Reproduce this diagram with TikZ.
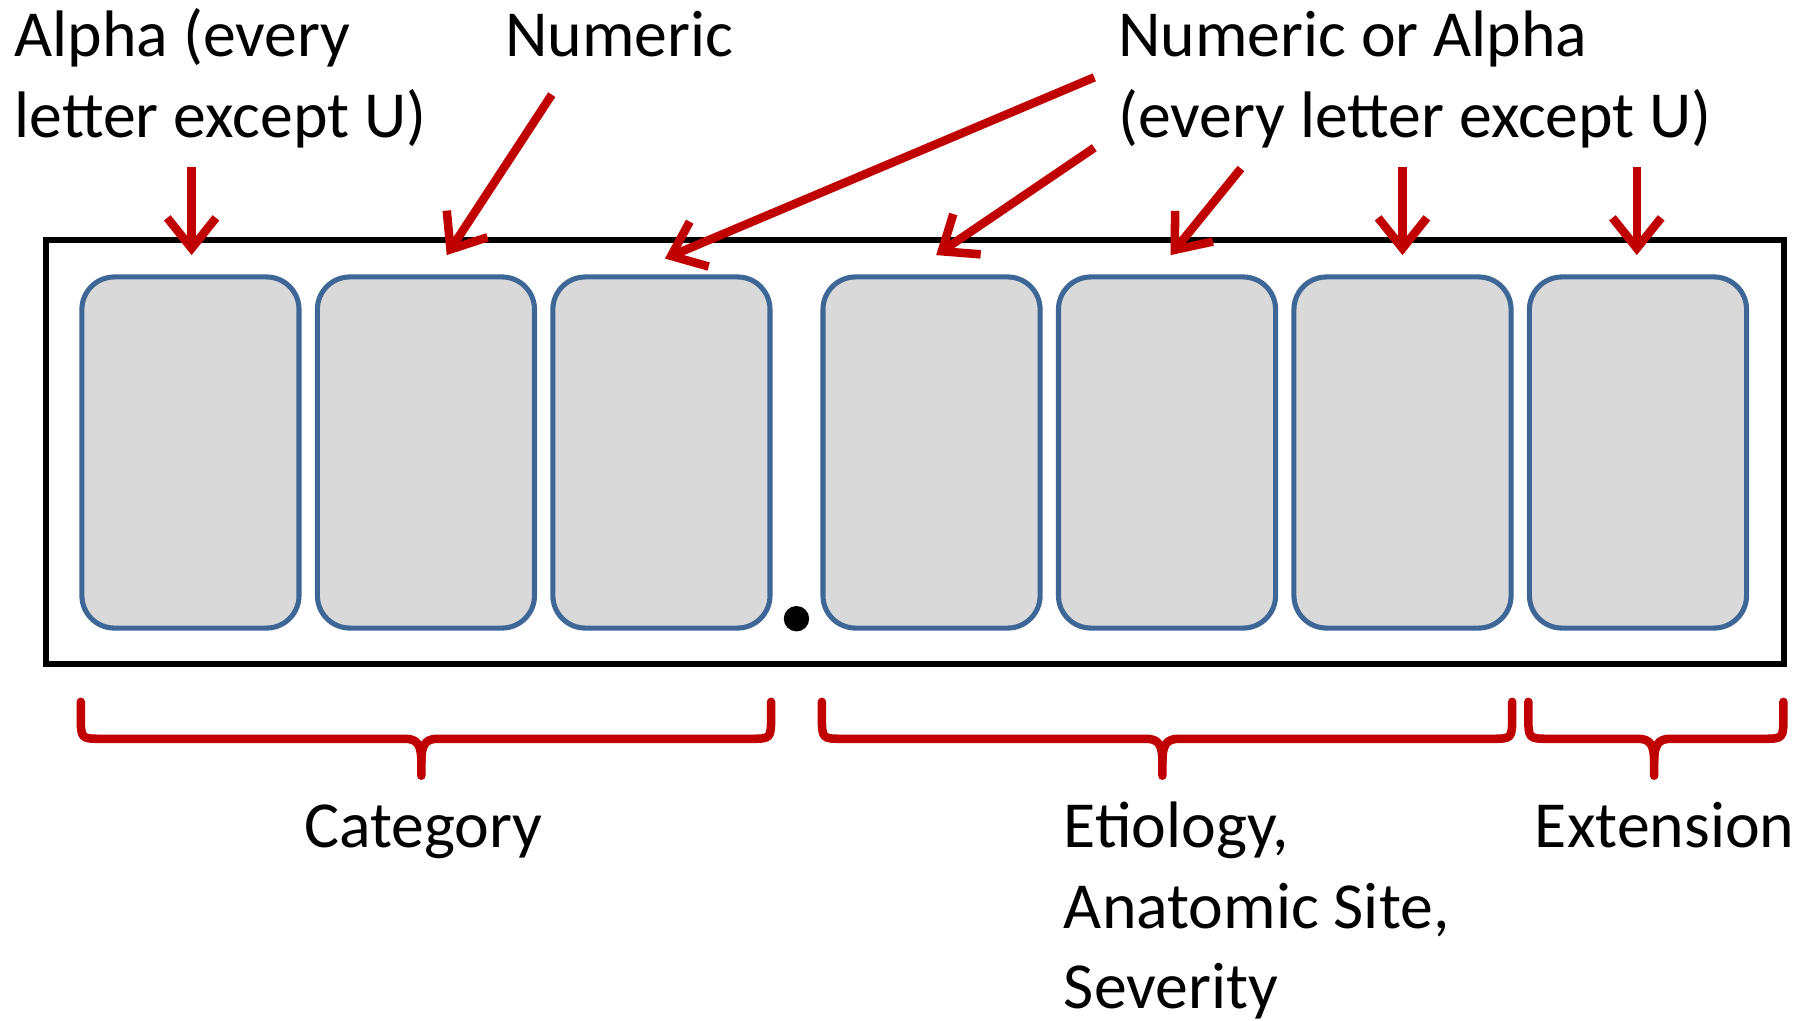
\documentclass[tikz,border=0pt]{standalone}
\usepackage{fontspec}
\setmainfont{Carlito}
\usetikzlibrary{arrows.meta}
\definecolor{cred}{HTML}{C00000}
\definecolor{cblue}{HTML}{3E6797}
\definecolor{cgray}{HTML}{D9D9D9}
\begin{document}
\begin{tikzpicture}[x=0.01cm,y=-0.01cm,
  cell/.style={draw=cblue, fill=cgray, line width=1.25pt, rounded corners=8pt,
    minimum width=1.88cm, minimum height=3.04cm, inner sep=0pt},
  frame/.style={draw=black, line width=1.4pt, minimum width=15.05cm, minimum height=3.67cm, inner sep=0pt},
  lbl/.style={anchor=base west, inner sep=0pt, font=\fontsize{16.2}{20}\selectfont},
  pointer/.style={draw=cred, line width=2.1pt, -{Straight Barb[length=7.5pt,width=12pt]}},
  bracepath/.style={draw=cred, line width=2.1pt, line cap=round, line join=round}]
\useasboundingbox (0,0) rectangle (1568,884);
% frame
\node[frame] (frm) at (792.5,391.5) {};
% cells
\node[cell] (b1) at (165,392) {};
\node[cell] (b2) at (369,392) {};
\node[cell] (b3) at (573,392) {};
\node[cell] (b4) at (807,392) {};
\node[cell] (b5) at (1011,392) {};
\node[cell] (b6) at (1215,392) {};
\node[cell] (b7) at (1419,392) {};
% decimal point
\node[circle, fill=black, inner sep=0pt, minimum size=0.22cm] (dot) at (690,536) {};
% labels
\node[lbl] (t1a) at (12,49) {Alpha (every};
\node[lbl] (t1b) at (12,119) {letter except U)};
\node[lbl] (t2) at (437,49) {Numeric};
\node[lbl] (t3a) at (968,49) {Numeric or Alpha};
\node[lbl] (t3b) at (968,119) {(every letter except U)};
\node[lbl] (cat) at (263,734) {Category};
\node[lbl] (eta) at (921,734) {Etiology,};
\node[lbl] (etb) at (921,804) {Anatomic Site,};
\node[lbl] (etc) at (921,874) {Severity};
\node[lbl] (ext) at (1329,734) {Extension};
% arrow start / end coordinates
\coordinate (s1) at (166,145);
\coordinate (e1) at (166,221);
\coordinate (s2) at (478,82);
\coordinate (e2) at (387,221);
\coordinate (s3) at (948,67);
\coordinate (e3) at (576,224);
\coordinate (s4) at (948,128);
\coordinate (e4) at (811,221);
\coordinate (s5) at (1075,146);
\coordinate (e5) at (1014,221);
\coordinate (s6) at (1215,145);
\coordinate (e6) at (1215,221);
\coordinate (s7) at (1418,145);
\coordinate (e7) at (1418,221);
\foreach \i in {1,...,7} {\draw[pointer] (s\i) -- (e\i);}
% braces
\foreach \xa/\xm/\xb in {70/365/668, 712/1007/1310, 1324/1433/1545} {
  \draw[bracepath] (\xa,608) -- (\xa,620) .. controls (\xa,640) and (\xa,640) .. (\xa+18,640)
    -- (\xm-14,640) .. controls (\xm-3,640) and (\xm,646) .. (\xm,660) -- (\xm,672);
  \draw[bracepath] (\xm,660) .. controls (\xm,646) and (\xm+3,640) .. (\xm+14,640)
    -- (\xb-18,640) .. controls (\xb,640) and (\xb,640) .. (\xb,620) -- (\xb,608);
}
\end{tikzpicture}
\end{document}
